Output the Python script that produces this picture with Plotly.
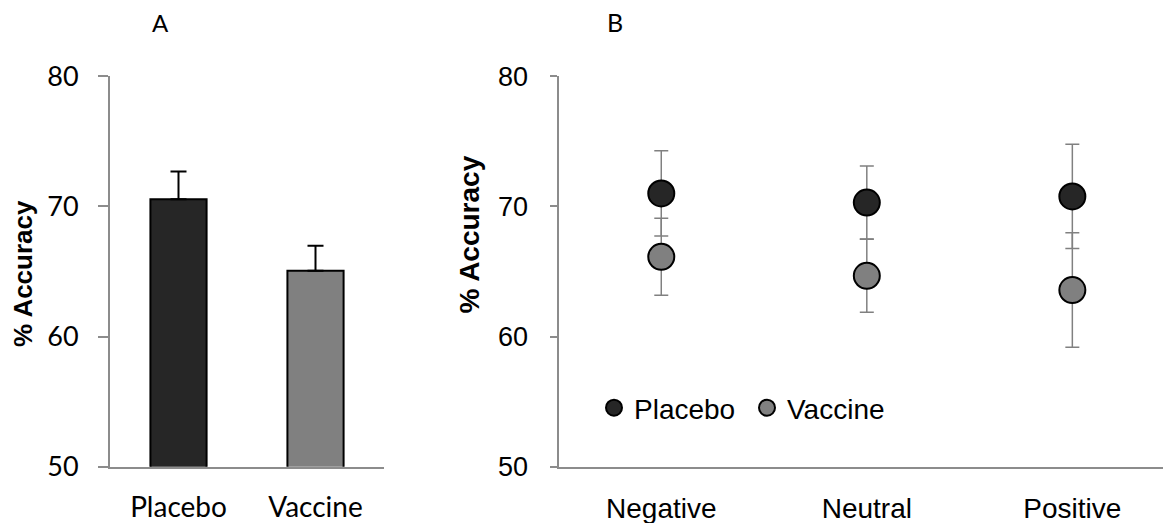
import plotly.graph_objects as go

# Panel A data
groups = ["Placebo", "Vaccine"]
overall_mean = [70.55, 65.05]
overall_err = [2.13, 1.92]

# Panel B data
valence = ["Negative", "Neutral", "Positive"]
placebo_mean = [71.0, 70.3, 70.77]
placebo_err = [3.27, 2.8, 4.0]
vaccine_mean = [66.13, 64.67, 63.57]
vaccine_err = [2.96, 2.8, 4.4]

y_ticks = [50, 60, 70, 80]

# page body has an 8px margin; the figure is sized to fill the rest of the window
OFF = 8
W, H = 1171 - OFF, 523 - OFF
def px(x):
    return (x - OFF) / W
def py(y):
    return (H - (y - OFF)) / H

AXIS_GRAY = "#8c8c8c"
ydom = [py(466.7), py(76.3)]

fig = go.Figure()

# Panel A bars
fig.add_trace(go.Bar(
    x=groups, y=overall_mean,
    marker=dict(color=["#262626", "#808080"], line=dict(color="#000000", width=2)),
    error_y=dict(type="data", array=overall_err, arrayminus=[0, 0], symmetric=False,
                 color="#000000", thickness=2, width=8),
    xaxis="x", yaxis="y", showlegend=False,
))

# Panel B points
fig.add_trace(go.Scatter(
    x=valence, y=placebo_mean, mode="markers", name="Placebo",
    marker=dict(color="#262626", size=26, line=dict(color="#000000", width=2)),
    error_y=dict(type="data", array=placebo_err, color="#808080", thickness=1.5, width=7),
    xaxis="x2", yaxis="y2",
))
fig.add_trace(go.Scatter(
    x=valence, y=vaccine_mean, mode="markers", name="Vaccine",
    marker=dict(color="#808080", size=26, line=dict(color="#000000", width=2)),
    error_y=dict(type="data", array=vaccine_err, color="#808080", thickness=1.5, width=7),
    xaxis="x2", yaxis="y2",
))

fontA = "Lato, Carlito, sans-serif"
fontB = "Liberation Sans, Arial, sans-serif"

fig.update_layout(
    width=W, height=H,
    margin=dict(l=0, r=0, t=0, b=0, autoexpand=False),
    paper_bgcolor="white", plot_bgcolor="white",
    bargap=0.59,
    xaxis=dict(domain=[px(110), px(384)], anchor="y", showgrid=False, zeroline=False,
               showline=True, linecolor=AXIS_GRAY, linewidth=2, ticks="",
               tickfont=dict(family=fontA, size=28, color="#000000"),
               ticklabelstandoff=15, automargin=False),
    yaxis=dict(domain=ydom, anchor="x", range=[50, 80], tickvals=y_ticks,
               showgrid=False, zeroline=False, showline=True, linecolor=AXIS_GRAY,
               linewidth=2, ticks="outside", ticklen=10, tickwidth=2, tickcolor=AXIS_GRAY,
               tickfont=dict(family=fontA, size=27, color="#000000"),
               ticklabelstandoff=14, automargin=False),
    xaxis2=dict(domain=[px(558.5), 1.0], anchor="y2", range=[-0.5, 2.48],
                showgrid=False, zeroline=False,
                showline=True, linecolor=AXIS_GRAY, linewidth=2, ticks="",
                tickfont=dict(family=fontB, size=28, color="#000000"),
                ticklabelstandoff=16, automargin=False),
    yaxis2=dict(domain=ydom, anchor="x2", range=[50, 80], tickvals=y_ticks,
                showgrid=False, zeroline=False, showline=True, linecolor=AXIS_GRAY,
                linewidth=2, ticks="outside", ticklen=7, tickwidth=2, tickcolor=AXIS_GRAY,
                tickfont=dict(family=fontB, size=27, color="#000000"),
                ticklabelstandoff=16, automargin=False),
    legend=dict(orientation="h", x=px(594), y=py(408), xanchor="left", yanchor="middle",
                font=dict(family=fontB, size=28, color="#000000"),
                bgcolor="rgba(0,0,0,0)", itemwidth=30, tracegroupgap=0,
                entrywidth=108, entrywidthmode="pixels"),
    annotations=[
        dict(text="<b>% Accuracy</b>", textangle=-90, x=px(22.5), y=py(273.5),
             xref="paper", yref="paper", showarrow=False, xanchor="center", yanchor="middle",
             font=dict(family=fontB, size=26, color="#000000")),
        dict(text="<b>% Accuracy</b>", textangle=-90, x=px(469), y=py(234.5),
             xref="paper", yref="paper", showarrow=False, xanchor="center", yanchor="middle",
             font=dict(family=fontB, size=28, color="#000000")),
        dict(text="A", x=px(160), y=py(23), xref="paper", yref="paper", showarrow=False,
             xanchor="center", yanchor="middle",
             font=dict(family=fontA, size=24, color="#000000")),
        dict(text="B", x=px(615), y=py(22), xref="paper", yref="paper", showarrow=False,
             xanchor="center", yanchor="middle",
             font=dict(family=fontA, size=25, color="#000000")),
    ],
)

fig.write_html("out.html")
